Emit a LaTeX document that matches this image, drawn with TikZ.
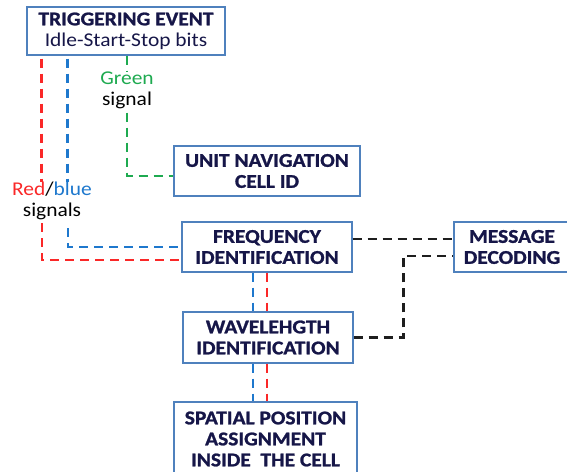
\documentclass[tikz,border=0pt]{standalone}
\usepackage{fontspec}
\setmainfont{Carlito}[FakeStretch=1.1,BoldFeatures={FakeBold=1.2}]
\usepackage{tikz}
\usetikzlibrary{positioning,calc}
\definecolor{bxBlue}{RGB}{79,129,189}
\definecolor{txNavy}{RGB}{22,22,72}
\definecolor{sRed}{RGB}{250,40,40}
\definecolor{sBlue}{RGB}{30,120,205}
\definecolor{sGreen}{RGB}{30,170,80}
\definecolor{sBlack}{RGB}{30,30,30}

\begin{document}
\begin{tikzpicture}[x=1pt,y=-1pt,font=\fontsize{19.5}{21}\selectfont,
  blk/.style={draw=bxBlue,line width=1.3pt,fill=white,align=center,text=txNavy,
              font=\fontsize{19.5}{21}\selectfont\bfseries,inner sep=0pt},
  sig/.style={line width=2.5pt,dash pattern=on 9pt off 6pt},
  lab/.style={align=center,inner sep=0pt}]
\useasboundingbox (0,0) rectangle (567,471);
\clip (0,0) rectangle (567,471);
% ---- boxes
\node[blk,minimum width=198pt,minimum height=48pt] (trig) at (126,31)
  {TRIGGERING EVENT\\\mdseries Idle-Start-Stop bits};
\node[blk,minimum width=186pt,minimum height=50pt] (unav) at (267,171) {UNIT NAVIGATION\\CELL ID};
\node[blk,minimum width=170pt,minimum height=50pt] (freq) at (267,247) {FREQUENCY\\IDENTIFICATION};
\node[blk,minimum width=170pt,minimum height=51pt] (wave) at (268,337.5) {WAVELEHGTH\\IDENTIFICATION};
\node[blk,minimum width=183pt,minimum height=74pt] (spat) at (265.5,439)
  {SPATIAL POSITION\\ASSIGNMENT\\INSIDE\ \ THE CELL};
\node[blk,minimum width=116pt,minimum height=50pt] (msg) at (512,247) {MESSAGE\\DECODING};
% ---- labels
\node[lab] (grn) at (127,90) {\textcolor{sGreen}{Green}\\signal};
\node[lab] (rb) at (52,201) {\textcolor{sRed}{Red}/\textcolor{sBlue}{blue}\\signals};
% ---- green flow
\draw[sig,sGreen] (trig.south -| grn) -- (grn.north);
\draw[sig,sGreen] ([yshift=-4pt]grn.south) |- ([yshift=-5pt]unav.west);
% ---- red / blue flows
\draw[sig,sRed] ([xshift=15pt,yshift=-3pt]trig.south west) -- ([xshift=15pt]trig.south west |- rb.north);
\draw[sig,sBlue] ([xshift=41pt,yshift=-3pt]trig.south west) -- ([xshift=41pt]trig.south west |- rb.north);
\draw[sig,sRed] ([xshift=-10pt,yshift=-3pt]rb.south) |- ([yshift=-13pt]freq.west);
\draw[sig,sBlue] ([xshift=16pt,yshift=-8pt]rb.south) |- (freq.west);
\draw[sig,sBlue] ([xshift=-14pt]freq.south) -- ([xshift=-14pt]freq.south |- wave.north);
\draw[sig,sRed] (freq.south) -- (freq.south |- wave.north);
\draw[sig,sBlue] ([xshift=-14pt]freq.south |- wave.south) -- ([xshift=-14pt]freq.south |- spat.north);
\draw[sig,sRed] (freq.south |- wave.south) -- (freq.south |- spat.north);
% ---- black flows
\draw[sig,sBlack] ([yshift=8pt]freq.east) -- ([yshift=8pt]msg.west);
\draw[sig,sBlack] (wave.east) -| ($(wave.east)!0.5!(msg.west |- wave.east)$) |- ([yshift=-9pt]msg.west);
\end{tikzpicture}
\end{document}
